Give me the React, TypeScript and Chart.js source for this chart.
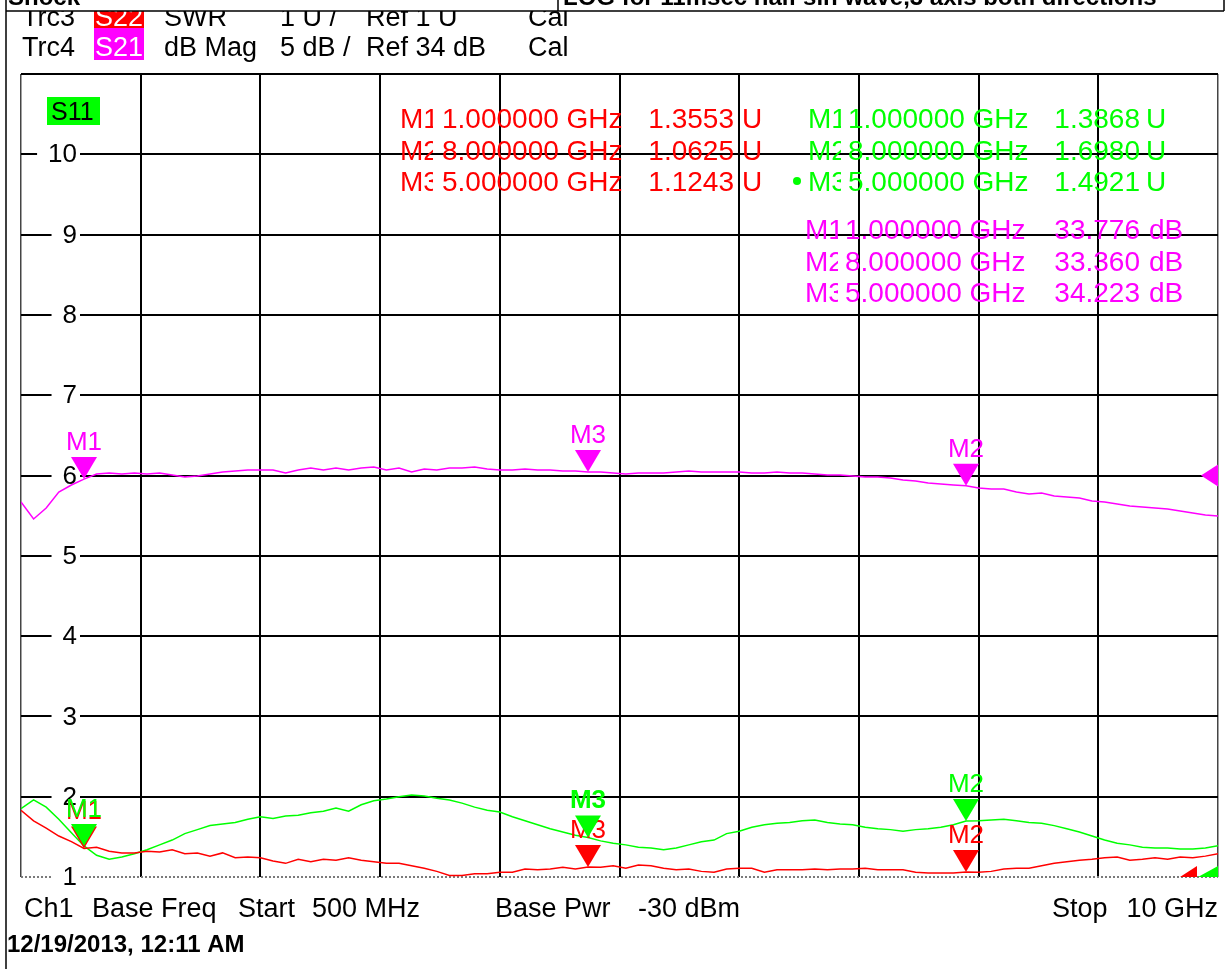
import React, { useEffect, useRef } from "react";
import { Chart, registerables } from "chart.js";

Chart.register(...registerables);

// ---------- data ----------
const FREQ_GHZ = [
  0.5, 0.6, 0.7, 0.8, 0.9, 1.0, 1.1, 1.2, 1.3, 1.4,
  1.5, 1.6, 1.7, 1.8, 1.9, 2.0, 2.1, 2.2, 2.3, 2.4,
  2.5, 2.6, 2.7, 2.8, 2.9, 3.0, 3.1, 3.2, 3.3, 3.4,
  3.5, 3.6, 3.7, 3.8, 3.9, 4.0, 4.1, 4.2, 4.3, 4.4,
  4.5, 4.6, 4.7, 4.8, 4.9, 5.0, 5.1, 5.2, 5.3, 5.4,
  5.5, 5.6, 5.7, 5.8, 5.9, 6.0, 6.1, 6.2, 6.3, 6.4,
  6.5, 6.6, 6.7, 6.8, 6.9, 7.0, 7.1, 7.2, 7.3, 7.4,
  7.5, 7.6, 7.7, 7.8, 7.9, 8.0, 8.1, 8.2, 8.3, 8.4,
  8.5, 8.6, 8.7, 8.8, 8.9, 9.0, 9.1, 9.2, 9.3, 9.4,
  9.5, 9.6, 9.7, 9.8, 9.9, 10.0,
];

// Trc4 S21, dB Mag (5 dB/div, ref 34 dB at division 5)
const S21_DB = [
  32.35, 31.29, 31.98, 32.97, 33.41, 33.776, 34.09, 34.16, 34.09, 34.16,
  34.09, 34.16, 34.03, 33.91, 33.97, 34.09, 34.22, 34.28, 34.34, 34.34,
  34.34, 34.16, 34.34, 34.47, 34.34, 34.47, 34.34, 34.47, 34.53, 34.34,
  34.47, 34.22, 34.41, 34.34, 34.47, 34.47, 34.53, 34.41, 34.34, 34.34,
  34.41, 34.34, 34.34, 34.28, 34.28, 34.223, 34.22, 34.16, 34.09, 34.16,
  34.16, 34.16, 34.22, 34.28, 34.22, 34.22, 34.22, 34.22, 34.16, 34.16,
  34.22, 34.16, 34.16, 34.09, 34.03, 34.03, 33.97, 33.91, 33.91, 33.85,
  33.72, 33.66, 33.53, 33.47, 33.41, 33.36, 33.22, 33.16, 33.16, 32.97,
  32.85, 32.91, 32.72, 32.66, 32.6, 32.41, 32.35, 32.23, 32.1, 32.04,
  31.98, 31.92, 31.79, 31.67, 31.54, 31.48,
];

// Trc1 S11, SWR (1 U/div, ref 1 U)
const S11_SWR = [
  1.85, 1.96, 1.87, 1.72, 1.55, 1.3868, 1.27, 1.22, 1.25, 1.29,
  1.34, 1.4, 1.46, 1.54, 1.59, 1.64, 1.66, 1.68, 1.72, 1.75,
  1.73, 1.76, 1.77, 1.8, 1.82, 1.86, 1.82, 1.9, 1.95, 1.97,
  2.0, 2.02, 2.01, 1.98, 1.96, 1.92, 1.87, 1.83, 1.81, 1.75,
  1.7, 1.65, 1.6, 1.56, 1.52, 1.4921, 1.45, 1.42, 1.4, 1.37,
  1.36, 1.34, 1.36, 1.4, 1.44, 1.46, 1.54, 1.57, 1.62, 1.65,
  1.67, 1.68, 1.7, 1.71, 1.68, 1.66, 1.65, 1.62, 1.6, 1.59,
  1.57, 1.59, 1.6, 1.62, 1.65, 1.698, 1.7, 1.71, 1.72, 1.7,
  1.68, 1.67, 1.64, 1.6, 1.56, 1.51, 1.46, 1.42, 1.4, 1.37,
  1.36, 1.36, 1.35, 1.35, 1.36, 1.39,
];

// Trc3 S22, SWR (1 U/div, ref 1 U)
const S22_SWR = [
  1.83, 1.7, 1.61, 1.51, 1.44, 1.3553, 1.37, 1.32, 1.3, 1.3,
  1.32, 1.31, 1.34, 1.29, 1.3, 1.26, 1.3, 1.24, 1.25, 1.24,
  1.2, 1.17, 1.22, 1.19, 1.22, 1.21, 1.24, 1.21, 1.19, 1.17,
  1.17, 1.14, 1.11, 1.07, 1.02, 1.02, 1.04, 1.04, 1.06, 1.06,
  1.1, 1.09, 1.1, 1.12, 1.1, 1.1243, 1.12, 1.14, 1.11, 1.15,
  1.14, 1.11, 1.09, 1.1, 1.07, 1.06, 1.1, 1.11, 1.11, 1.06,
  1.09, 1.09, 1.09, 1.1, 1.09, 1.1, 1.1, 1.11, 1.09, 1.09,
  1.09, 1.06, 1.05, 1.05, 1.05, 1.0625, 1.06, 1.07, 1.1, 1.11,
  1.11, 1.14, 1.17, 1.19, 1.21, 1.22, 1.24, 1.25, 1.21, 1.22,
  1.24, 1.22, 1.25, 1.24, 1.26, 1.29,
];

const MARKER_NAMES = ["M1", "M2", "M3"];
const MARKER_FREQ_GHZ = [1.0, 8.0, 5.0];
const S22_MARKERS = [1.3553, 1.0625, 1.1243];
const S11_MARKERS = [1.3868, 1.698, 1.4921];
const S21_MARKERS = [33.776, 33.36, 34.223];

const X_GRID_GHZ = [0.5, 1.45, 2.4, 3.35, 4.3, 5.25, 6.2, 7.15, 8.1, 9.05, 10.0];
const Y_TICK_LABELS = [1, 2, 3, 4, 5, 6, 7, 8, 9, 10];

const TRC3_ROW = ["Trc3", "S22", "SWR", "1 U /", "Ref 1 U", "Cal"];
const TRC4_ROW = ["Trc4", "S21", "dB Mag", "5 dB /", "Ref 34 dB", "Cal"];
const FOOTER_LEFT = ["Ch1", "Base Freq", "Start", "500 MHz"];
const FOOTER_MID = ["Base Pwr", "-30 dBm"];
const FOOTER_RIGHT = ["Stop", "10 GHz"];
const DATE_TEXT = "12/19/2013, 12:11 AM";
const BOX_LEFT = "Shock";
const BOX_RIGHT = "LOG for 11msec half sin wave,3 axis both directions";

const RED = "#ff0000";
const GREEN = "#00ff00";
const MAGENTA = "#ff00ff";
const FONT = '"Liberation Sans", Arial, sans-serif';

const W = 1225;
const H = 969;

function tri(ctx: CanvasRenderingContext2D, x: number, y: number, color: string) {
  ctx.beginPath();
  ctx.moveTo(x, y);
  ctx.lineTo(x - 13, y - 22);
  ctx.lineTo(x + 13, y - 22);
  ctx.closePath();
  ctx.fillStyle = color;
  ctx.fill();
}

const overlay = {
  id: "vnaOverlay",
  beforeDraw(chart: any) {
    const ctx = chart.ctx as CanvasRenderingContext2D;
    ctx.save();
    ctx.fillStyle = "#ffffff";
    ctx.fillRect(0, 0, chart.width, chart.height);
    ctx.restore();
  },
  beforeDatasetsDraw(chart: any) {
    const ctx = chart.ctx as CanvasRenderingContext2D;
    const ys = chart.scales.y;
    const area = chart.chartArea;
    ctx.save();
    // bottom reference line (dotted grey)
    const yb = ys.getPixelForValue(1);
    ctx.strokeStyle = "#7a7a7a";
    ctx.lineWidth = 2;
    ctx.setLineDash([2, 2]);
    ctx.beginPath();
    ctx.moveTo(area.left, yb);
    ctx.lineTo(area.right, yb);
    ctx.stroke();
    ctx.setLineDash([]);
    // y tick labels with white backdrop
    ctx.font = `26px ${FONT}`;
    ctx.textAlign = "right";
    ctx.textBaseline = "middle";
    for (const v of Y_TICK_LABELS) {
      const y = ys.getPixelForValue(v);
      const t = String(v);
      const w = ctx.measureText(t).width;
      ctx.fillStyle = "#ffffff";
      ctx.fillRect(77 - w - 11, y - 11, w + 14, 22);
      ctx.fillStyle = "#000000";
      ctx.fillText(t, 77, y + 1);
    }
    ctx.restore();
  },
  afterDraw(chart: any) {
    const ctx = chart.ctx as CanvasRenderingContext2D;
    const xs = chart.scales.x;
    const ys = chart.scales.y;
    const yd = chart.scales.yDb;
    const area = chart.chartArea;
    ctx.save();

    // ---- reference-level triangles on the right edge ----
    const yRef = yd.getPixelForValue(34);
    ctx.fillStyle = MAGENTA;
    ctx.beginPath();
    ctx.moveTo(area.right - 17, yRef);
    ctx.lineTo(area.right, yRef - 11);
    ctx.lineTo(area.right, yRef + 11);
    ctx.closePath();
    ctx.fill();
    const y1 = ys.getPixelForValue(1);
    ctx.fillStyle = RED;
    ctx.beginPath();
    ctx.moveTo(area.right - 38, y1);
    ctx.lineTo(area.right - 21, y1 - 11);
    ctx.lineTo(area.right - 21, y1);
    ctx.closePath();
    ctx.fill();
    ctx.fillStyle = GREEN;
    ctx.beginPath();
    ctx.moveTo(area.right - 20, y1);
    ctx.lineTo(area.right, y1 - 11);
    ctx.lineTo(area.right, y1);
    ctx.closePath();
    ctx.fill();

    // ---- trace markers ----
    ctx.textAlign = "center";
    ctx.textBaseline = "alphabetic";
    const groups: [number[], any, string][] = [
      [S22_MARKERS, ys, RED],
      [S11_MARKERS, ys, GREEN],
      [S21_MARKERS, yd, MAGENTA],
    ];
    groups.forEach(([vals, sc, color], g) => {
      vals.forEach((v, i) => {
        const x = xs.getPixelForValue(MARKER_FREQ_GHZ[i]);
        const y = sc.getPixelForValue(v);
        ctx.fillStyle = color;
        // the active marker (S11 M3) is shown emphasised
        ctx.font = g === 1 && i === 2 ? `bold 26px ${FONT}` : `26px ${FONT}`;
        ctx.fillText(MARKER_NAMES[i], x, y - 29);
        tri(ctx, x, y, color);
      });
    });

    // ---- marker readout tables ----
    ctx.font = `28px ${FONT}`;
    const table = (
      color: string,
      vals: number[],
      digits: number,
      unit: string,
      xName: number,
      xFreq: number,
      xValR: number,
      xUnit: number,
      base: number[]
    ) => {
      ctx.fillStyle = color;
      vals.forEach((v, i) => {
        const b = base[i];
        ctx.save();
        ctx.beginPath();
        ctx.rect(xName - 2, b - 30, 35, 40);
        ctx.clip();
        ctx.textAlign = "left";
        ctx.fillText(MARKER_NAMES[i], xName, b);
        ctx.restore();
        ctx.textAlign = "left";
        ctx.fillText(`${MARKER_FREQ_GHZ[i].toFixed(6)} GHz`, xFreq, b);
        ctx.textAlign = "right";
        ctx.fillText(v.toFixed(digits), xValR, b);
        ctx.textAlign = "left";
        ctx.fillText(unit, xUnit, b);
      });
    };
    table(RED, S22_MARKERS, 4, "U", 400, 442, 734, 742, [128, 160, 191]);
    table(GREEN, S11_MARKERS, 4, "U", 808, 848, 1140, 1146, [128, 160, 191]);
    table(MAGENTA, S21_MARKERS, 3, "dB", 805, 845, 1140, 1149, [239, 271, 302]);
    // active marker dot
    ctx.fillStyle = GREEN;
    ctx.beginPath();
    ctx.arc(797, 181, 4, 0, Math.PI * 2);
    ctx.fill();

    // ---- S11 label ----
    ctx.fillStyle = GREEN;
    ctx.fillRect(47, 97, 53, 28);
    ctx.fillStyle = "#000000";
    ctx.font = `25px ${FONT}`;
    ctx.textAlign = "left";
    ctx.fillText("S11", 51, 120);

    // ---- header rows ----
    ctx.font = `27px ${FONT}`;
    const hx = [22, 119, 164, 280, 366, 528];
    ctx.fillStyle = RED;
    ctx.fillRect(94, 6, 50, 22);
    ctx.fillStyle = MAGENTA;
    ctx.fillRect(94, 28, 50, 32);
    const row = (items: string[], base: number) => {
      items.forEach((t, i) => {
        ctx.fillStyle = i === 1 ? "#ffffff" : "#000000";
        ctx.textAlign = i === 1 ? "center" : "left";
        ctx.fillText(t, hx[i], base, i === 1 ? 48 : undefined as any);
      });
      ctx.textAlign = "left";
    };
    row(TRC3_ROW, 26);
    row(TRC4_ROW, 56);

    // ---- top (cut off) box ----
    ctx.fillStyle = "#ffffff";
    ctx.fillRect(0, 0, W, 11);
    ctx.fillStyle = "#000000";
    ctx.font = `bold 24px ${FONT}`;
    ctx.fillText(BOX_LEFT, 8, 5);
    ctx.fillText(BOX_RIGHT, 563, 5, 610);
    ctx.strokeStyle = "#000000";
    ctx.lineWidth = 1.5;
    ctx.beginPath();
    ctx.moveTo(6, 11);
    ctx.lineTo(1224, 11);
    ctx.moveTo(558, 0);
    ctx.lineTo(558, 11);
    ctx.moveTo(1224, 0);
    ctx.lineTo(1224, 11);
    ctx.moveTo(6, 0);
    ctx.lineTo(6, H);
    ctx.stroke();

    // ---- footer ----
    ctx.font = `27px ${FONT}`;
    ctx.fillStyle = "#000000";
    ctx.textAlign = "left";
    const fl = [24, 92, 238, 312];
    FOOTER_LEFT.forEach((t, i) => ctx.fillText(t, fl[i], 917));
    const fm = [495, 638];
    FOOTER_MID.forEach((t, i) => ctx.fillText(t, fm[i], 917));
    ctx.fillText(FOOTER_RIGHT[0], 1052, 917);
    ctx.textAlign = "right";
    ctx.fillText(FOOTER_RIGHT[1], 1218, 917);
    ctx.textAlign = "left";
    ctx.font = `bold 24px ${FONT}`;
    ctx.fillText(DATE_TEXT, 7, 952);

    ctx.restore();
  },
};

export default function App() {
  const ref = useRef<HTMLCanvasElement | null>(null);
  useEffect(() => {
    if (!ref.current) return;
    const pts = (vals: number[]) => FREQ_GHZ.map((f, i) => ({ x: f, y: vals[i] }));
    const edge = (c: any) => c.index === 0 || c.index === X_GRID_GHZ.length - 1;
    const chart = new Chart(ref.current, {
      type: "line",
      data: {
        datasets: [
          { label: "S22", data: pts(S22_SWR), borderColor: RED, borderWidth: 1.5, pointRadius: 0, yAxisID: "y", tension: 0 },
          { label: "S11", data: pts(S11_SWR), borderColor: GREEN, borderWidth: 1.5, pointRadius: 0, yAxisID: "y", tension: 0 },
          { label: "S21", data: pts(S21_DB), borderColor: MAGENTA, borderWidth: 1.5, pointRadius: 0, yAxisID: "yDb", tension: 0 },
        ],
      },
      options: {
        animation: false,
        responsive: false,
        layout: { padding: { left: 21, top: 74, right: 7, bottom: 92 } },
        plugins: { legend: { display: false }, tooltip: { enabled: false }, title: { display: false } },
        scales: {
          x: {
            type: "linear",
            min: 0.5,
            max: 10,
            afterBuildTicks: (s: any) => {
              s.ticks = X_GRID_GHZ.map((v) => ({ value: v }));
            },
            afterFit: (s: any) => {
              s.height = 0;
            },
            ticks: { display: false },
            border: { display: false },
            grid: {
              drawTicks: false,
              color: (c: any) => (edge(c) ? "#444444" : "#000000"),
              lineWidth: (c: any) => (edge(c) ? 1.5 : 2),
            },
          },
          y: {
            type: "linear",
            min: 1,
            max: 11,
            afterFit: (s: any) => {
              s.width = 0;
            },
            ticks: { display: false, stepSize: 1 },
            border: { display: false },
            grid: {
              drawTicks: false,
              color: (c: any) => (c.tick && c.tick.value === 1 ? "rgba(0,0,0,0)" : "#000000"),
              lineWidth: 2,
            },
          },
          yDb: {
            type: "linear",
            min: 9,
            max: 59,
            display: false,
          },
        },
      } as any,
      plugins: [overlay as any],
    });
    return () => chart.destroy();
  }, []);
  return (
    <div style={{ position: "absolute", left: 0, top: 0, width: W, height: H, background: "#fff", overflow: "hidden" }}>
      <canvas ref={ref} width={W} height={H} style={{ display: "block" }} />
    </div>
  );
}
